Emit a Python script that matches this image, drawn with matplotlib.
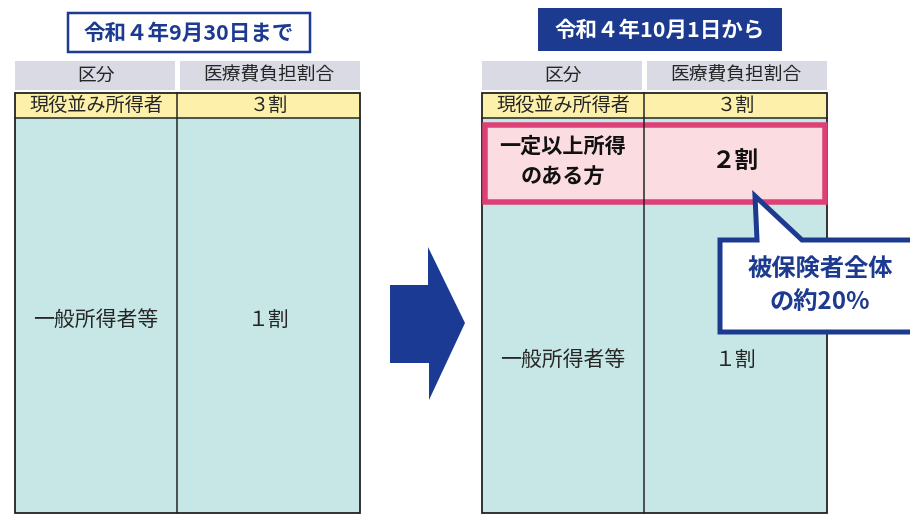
import matplotlib.pyplot as plt
from matplotlib.patches import Rectangle, Polygon

plt.rcParams['font.family'] = ['Noto Sans CJK JP', 'DejaVu Sans']

# data
titles = ["令和４年9月30日まで", "令和４年10月1日から"]
headers = ["区分", "医療費負担割合"]
before_groups = ["現役並み所得者", "一般所得者等"]
before_rates = ["３割", "１割"]
after_groups = ["現役並み所得者", "一定以上所得\nのある方", "一般所得者等"]
after_rates = ["３割", "２割", "１割"]
callout = "被保険者全体\nの約20%"

NAVY = "#1c3a8f"
GRAY = "#d9dae4"
YELLOW = "#fcf0ab"
TEAL = "#c7e7e7"
PINK = "#fbdde1"
PINK_EDGE = "#de3f76"
TXT = "#262626"

px = 72 / 100  # points per pixel


def rect(ax, x0, y0, x1, y1, fc, ec="none", lw=0, z=1):
    ax.add_patch(Rectangle((x0, y0), x1 - x0, y1 - y0, facecolor=fc,
                           edgecolor=ec, linewidth=lw * px, zorder=z,
                           joinstyle="miter"))


def table(ax, x0, xm, x1, groups, rates, pink=False):
    top, bot = 93, 513
    # header cells
    rect(ax, x0, 61, xm - 2, 90, GRAY)
    rect(ax, xm + 3, 61, x1, 90, GRAY)
    ax.text((x0 + xm) / 2, 75, headers[0], ha="center", va="center",
            fontsize=13.5, color=TXT)
    ax.text((xm + x1) / 2, 75, headers[1], ha="center", va="center",
            fontsize=13.5, color=TXT)
    # body
    rect(ax, x0, top, x1, bot, TEAL)
    rect(ax, x0, top, x1, 118, YELLOW)
    ax.plot([x0, x1], [118, 118], color="#222222", lw=1.5 * px, zorder=3)
    ax.text((x0 + xm) / 2, 105.5, groups[0], ha="center", va="center",
            fontsize=13.8, color=TXT, zorder=5)
    ax.text((xm + x1) / 2, 105.5, rates[0], ha="center", va="center",
            fontsize=13.8, color=TXT, zorder=5)
    if pink:
        rect(ax, x0 + 2.5, 124.5, x1 - 2.5, 201.5, PINK, PINK_EDGE, 5.5, z=4)
        ax.text((x0 + xm) / 2, 162, groups[1], ha="center", va="center",
                fontsize=15.2, fontweight="bold", color="#111111", zorder=6,
                linespacing=1.6)
        ax.text((xm + x1) / 2, 162, rates[1], ha="center", va="center",
                fontsize=17, fontweight="bold", color="#111111", zorder=6)
        ymid = 360
    else:
        ymid = 320
    ax.text((x0 + xm) / 2, ymid, groups[-1], ha="center", va="center",
            fontsize=15, color=TXT, zorder=5)
    ax.text((xm + x1) / 2, ymid, rates[-1], ha="center", va="center",
            fontsize=15, color=TXT, zorder=5)
    ax.plot([xm, xm], [top, bot], color="#222222", lw=1.5 * px, zorder=5)
    rect(ax, x0, top, x1, bot, "none", "#222222", 1.8, z=3)


fig = plt.figure(figsize=(9.1, 5.16), dpi=100)
ax = fig.add_axes([0, 0, 1, 1])
ax.set_xlim(0, 910)
ax.set_ylim(516, 0)
ax.axis("off")

# titles
rect(ax, 68, 13, 310, 52, "white", NAVY, 2.5)
ax.text(189, 33, titles[0], ha="center", va="center", fontsize=15.5,
        fontweight="bold", color=NAVY)
rect(ax, 538, 8, 782, 51, NAVY)
ax.text(660, 30, titles[1], ha="center", va="center", fontsize=15.5,
        fontweight="bold", color="white")

table(ax, 15, 177, 360, before_groups, before_rates)
table(ax, 482, 644, 827, after_groups, after_rates, pink=True)

# arrow
ax.add_patch(Polygon([(390, 285), (428, 285), (428, 247), (465, 323),
                      (429, 400), (429, 363), (390, 363)],
                     closed=True, facecolor="#1a3a94", edgecolor="none"))

# callout
ax.add_patch(Polygon([(720, 240), (757, 240), (755, 196), (802, 240),
                      (920, 240), (920, 332), (720, 332)], closed=True,
                     facecolor="white", edgecolor=NAVY, linewidth=5 * px,
                     joinstyle="miter", zorder=8))
ax.text(820, 286, callout, ha="center", va="center", fontsize=17.5,
        fontweight="bold", color=NAVY, zorder=9, linespacing=1.45)

fig.savefig("out.png", dpi=100)
